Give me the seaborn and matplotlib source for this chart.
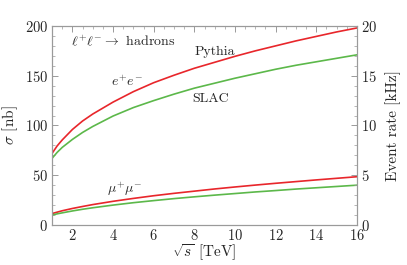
import pandas as pd
import numpy as np
import matplotlib
matplotlib.use('Agg')
from matplotlib import pyplot as plt
from matplotlib.ticker import MultipleLocator
import seaborn as sns

# Values
sqrt_s = [1, 1.25, 1.5, 2, 2.5, 3, 4, 5, 6, 7, 8, 9, 10, 11, 12, 13, 14, 15, 16]
ee_pythia = [72, 79.5, 85.5, 96, 104.5, 111.5, 123.5, 134, 143, 150.5, 157.5, 163.5, 169.5, 175, 180, 185, 189.5, 194, 198]
ee_slac = [67, 73, 78, 86, 93, 99, 109.5, 118, 125, 131.5, 137.5, 142.5, 147.5, 152, 156.5, 160.5, 164, 167.5, 171]
mumu_pythia = [11.5, 12.9, 14.3, 16.6, 18.6, 20.5, 23.8, 26.7, 29.4, 31.8, 34.0, 36.2, 38.2, 40.1, 41.9, 43.6, 45.3, 46.9, 48.5]
mumu_slac = [10, 11.2, 12.2, 14.1, 15.8, 17.3, 20, 22.4, 24.5, 26.5, 28.3, 30, 31.6, 33.2, 34.6, 36.1, 37.4, 38.7, 40]

red = '#e8262b'
green = '#5cb84a'

sns.set_style('white')
plt.rcParams['font.family'] = 'serif'
plt.rcParams['font.serif'] = ['cmr10', 'DejaVu Serif']
plt.rcParams['mathtext.fontset'] = 'cm'
plt.rcParams['axes.formatter.use_mathtext'] = True
plt.rcParams['axes.unicode_minus'] = False

frames = []
for name, vals in [('ee_pythia', ee_pythia), ('ee_slac', ee_slac),
                   ('mumu_pythia', mumu_pythia), ('mumu_slac', mumu_slac)]:
    frames.append(pd.DataFrame({'sqrt_s': sqrt_s, 'sigma': vals, 'curve': name}))
df = pd.concat(frames, ignore_index=True)

fig = plt.figure(figsize=(4.07, 2.65), dpi=100)
ax = fig.add_axes([0.128, 0.151, 0.749, 0.751])

sns.lineplot(data=df, x='sqrt_s', y='sigma', hue='curve', units='curve', estimator=None,
             palette={'ee_pythia': red, 'ee_slac': green, 'mumu_pythia': red, 'mumu_slac': green},
             linewidth=1.2, legend=False, ax=ax)

ax.set_xlim(1, 16)
ax.set_ylim(0, 200)
ax.xaxis.set_major_locator(MultipleLocator(2))
ax.xaxis.set_minor_locator(MultipleLocator(0.5))
ax.yaxis.set_major_locator(MultipleLocator(50))
ax.yaxis.set_minor_locator(MultipleLocator(10))

ax2 = ax.twinx()
ax2.set_ylim(0, 20)
ax2.yaxis.set_major_locator(MultipleLocator(5))
ax2.yaxis.set_minor_locator(MultipleLocator(1))

spine_col = '#9a9a9a'
for a in (ax, ax2):
    for sp in a.spines.values():
        sp.set_color(spine_col)
        sp.set_linewidth(0.8)
ax.tick_params(which='both', direction='in', color=spine_col, top=True, right=False,
               labelsize=10.5, pad=3)
ax.tick_params(axis='x', which='both', pad=2)
ax.tick_params(which='major', length=4, width=0.7)
ax.tick_params(which='minor', length=2, width=0.5)
ax2.tick_params(which='both', direction='in', color=spine_col, labelsize=10.5, pad=3)
ax2.tick_params(which='major', length=4, width=0.7)
ax2.tick_params(which='minor', length=2, width=0.5)

ax.set_xlabel(r'$\sqrt{s}$ [TeV]', fontsize=11, labelpad=0)
ax.set_ylabel(r'$\sigma$ [nb]', fontsize=11, labelpad=3)
ax2.set_ylabel('Event rate [kHz]', fontsize=11, labelpad=6)

ax.text(1.95, 184, r'$\ell^{+}\ell^{-} \to$ hadrons', fontsize=10, va='center', ha='left')
ax.text(9.0, 174, 'Pythia', fontsize=10, va='center', ha='center')
ax.text(8.8, 127, 'SLAC', fontsize=10, va='center', ha='center')
ax.text(4.7, 144, r'$e^{+}e^{-}$', fontsize=10, va='center', ha='center')
ax.text(4.6, 36, r'$\mu^{+}\mu^{-}$', fontsize=10, va='center', ha='center')

plt.savefig('out.png', dpi=100)
plt.close()
